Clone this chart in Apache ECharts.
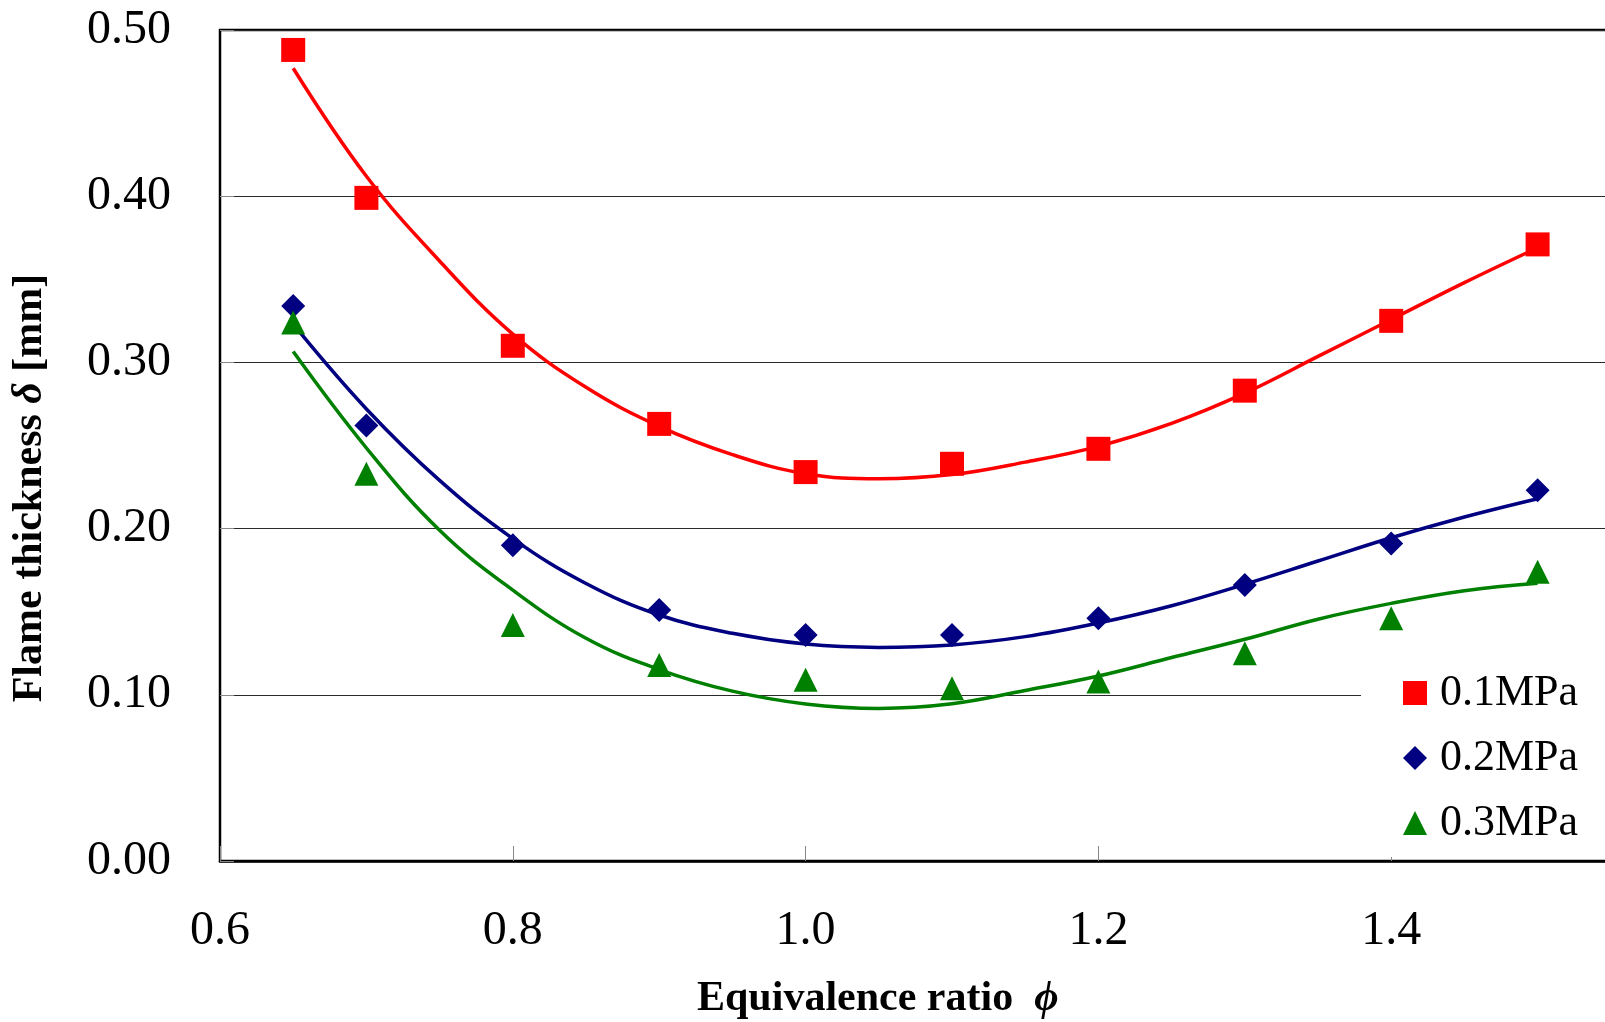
<!DOCTYPE html>
<html>
<head>
<meta charset="utf-8">
<script src="https://cdn.jsdelivr.net/npm/echarts@6/dist/echarts.min.js"></script>
<style>
  html, body { margin: 0; padding: 0; overflow: hidden; background: #fff; }
  #chart { width: 1700px; height: 1022px; }
</style>
</head>
<body>
<div id="chart"></div>
<script>
// Measured flame thickness vs. equivalence ratio at three pressures
const phi = [0.65, 0.7, 0.8, 0.9, 1.0, 1.1, 1.2, 1.3, 1.4, 1.5];
const delta01 = [0.488, 0.399, 0.310, 0.263, 0.234, 0.239, 0.248, 0.283, 0.325, 0.371];
const delta02 = [0.334, 0.262, 0.190, 0.151, 0.136, 0.136, 0.146, 0.166, 0.191, 0.223];
const delta03 = [0.324, 0.233, 0.142, 0.118, 0.109, 0.104, 0.108, 0.125, 0.146, 0.174];

// Trend curves through each data set
const trendPhi = [0.65, 0.7, 0.75, 0.8, 0.85, 0.9, 0.95, 1.0, 1.05, 1.1, 1.15, 1.2, 1.25, 1.3, 1.35, 1.4, 1.45, 1.5];
const trend01 = [0.477, 0.412, 0.361, 0.317, 0.285, 0.2615, 0.2445, 0.2330, 0.2300, 0.2325, 0.2400, 0.2495, 0.2633, 0.2815, 0.3036, 0.3258, 0.3480, 0.3690];
const trend02 = [0.323, 0.272, 0.229, 0.194, 0.167, 0.148, 0.137, 0.1305, 0.1285, 0.1300, 0.1350, 0.1432, 0.1536, 0.1665, 0.1805, 0.1945, 0.2070, 0.2180];
const trend03 = [0.3065, 0.2485, 0.1990, 0.1630, 0.1340, 0.1152, 0.1022, 0.0945, 0.0918, 0.0946, 0.1026, 0.1113, 0.1224, 0.1334, 0.1455, 0.1550, 0.1626, 0.1671];

const seriesNames = ['0.1MPa', '0.2MPa', '0.3MPa'];
const xTickLabels = ['0.6', '0.8', '1.0', '1.2', '1.4'];
const yTickLabels = ['0.00', '0.10', '0.20', '0.30', '0.40', '0.50'];

const colors = ['#FF0000', '#000080', '#008000'];
const symbols = ['rect', 'diamond', 'triangle'];
const FONT = 'Liberation Serif, Times New Roman, DejaVu Serif, serif';

function pairs(xs, ys) { return xs.map((x, i) => [x, ys[i]]); }

const measured = [delta01, delta02, delta03];
const trends = [trend01, trend02, trend03];

const series = [];
trends.forEach((t, i) => {
  series.push({
    name: 'trend ' + seriesNames[i],
    type: 'line',
    data: pairs(trendPhi, t),
    smooth: 0.4,
    showSymbol: false,
    silent: true,
    lineStyle: { color: colors[i], width: 3.5 },
    z: 2
  });
});
measured.forEach((m, i) => {
  series.push({
    name: seriesNames[i],
    type: 'scatter',
    data: pairs(phi, m),
    symbol: symbols[i],
    symbolSize: 24,
    itemStyle: { color: colors[i], opacity: 1 },
    z: 3
  });
});

const chart = echarts.init(document.getElementById('chart'), null, { renderer: 'canvas' });
chart.setOption({
  animation: false,
  backgroundColor: '#ffffff',
  grid: {
    left: 220, top: 30, right: 16, bottom: 161,
    show: true, borderColor: '#000', borderWidth: 2.5, backgroundColor: 'transparent'
  },
  legend: {
    data: seriesNames.map((n, i) => ({ name: n, icon: symbols[i] })),
    orient: 'vertical',
    left: 1361, top: 659,
    itemWidth: 24, itemHeight: 24, itemGap: 21,
    padding: [12, 60, 12, 42],
    backgroundColor: '#ffffff',
    textStyle: { fontFamily: FONT, fontSize: 44, color: '#000', padding: [0, 0, 0, 8], lineHeight: 44 }
  },
  xAxis: {
    type: 'value', min: 0.6, max: 1.6, interval: 0.2,
    axisLine: { show: true, lineStyle: { color: '#000', width: 2.5 } },
    axisTick: { show: true, inside: true, length: 15, lineStyle: { color: '#888', width: 1 } },
    splitLine: { show: false },
    axisLabel: {
      fontFamily: FONT, fontSize: 48, color: '#000', margin: 46,
      formatter: v => { const s = v.toFixed(1); return xTickLabels.includes(s) ? s : ''; }
    }
  },
  yAxis: {
    type: 'value', min: 0, max: 0.5, interval: 0.1,
    axisLine: { show: true, lineStyle: { color: '#000', width: 2 } },
    axisTick: { show: true, inside: true, length: 14, lineStyle: { color: '#888', width: 1 } },
    splitLine: { show: true, lineStyle: { color: '#2a2a2a', width: 1 } },
    axisLabel: {
      fontFamily: FONT, fontSize: 48, color: '#000', margin: 49,
      formatter: v => { const s = v.toFixed(2); return yTickLabels.includes(s) ? s : ''; }
    }
  },
  graphic: [
    {
      type: 'text', x: 697, y: 999,
      style: {
        text: '{b|Equivalence ratio  }{p|ϕ}',
        align: 'left', verticalAlign: 'middle',
        rich: {
          b: { fontFamily: FONT, fontSize: 42, fontWeight: 'bold', fill: '#000' },
          p: { fontFamily: FONT, fontSize: 42, fontWeight: 'bold', fontStyle: 'italic', fill: '#000' }
        }
      }
    },
    {
      type: 'text', x: 30, y: 488, rotation: Math.PI / 2,
      style: {
        text: '{b|Flame thickness }{d|δ}{b| [mm]}',
        align: 'center', verticalAlign: 'middle',
        rich: {
          b: { fontFamily: FONT, fontSize: 42, fontWeight: 'bold', fill: '#000' },
          d: { fontFamily: FONT, fontSize: 42, fontWeight: 'bold', fontStyle: 'italic', fill: '#000' }
        }
      }
    }
  ],
  series: series
});
</script>
</body>
</html>
